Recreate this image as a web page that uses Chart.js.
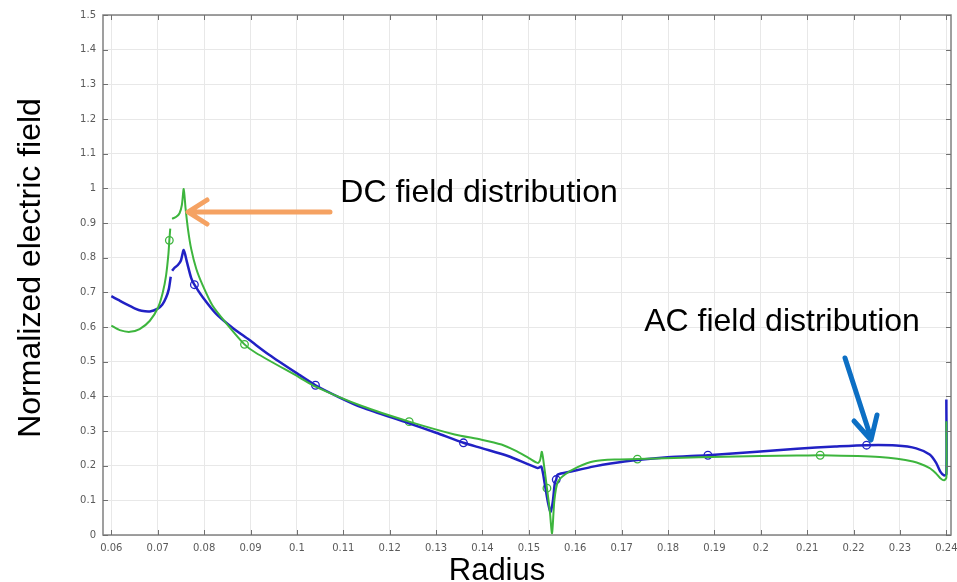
<!DOCTYPE html>
<html>
<head>
<meta charset="utf-8">
<script src="https://cdn.jsdelivr.net/npm/chart.js@4.4.1/dist/chart.umd.min.js"></script>
<style>
  html, body { margin: 0; padding: 0; background: #fff; }
  #wrap { width: 957px; height: 582px; }
</style>
</head>
<body>
<div id="wrap"><canvas id="fieldchart" width="957" height="582"></canvas></div>
<script>
// tick labels
const xTickLabels = ['0.06','0.07','0.08','0.09','0.1','0.11','0.12','0.13','0.14','0.15','0.16','0.17','0.18','0.19','0.2','0.21','0.22','0.23','0.24'];
const yTickLabels = ['0','0.1','0.2','0.3','0.4','0.5','0.6','0.7','0.8','0.9','1','1.1','1.2','1.3','1.4','1.5'];

// AC field (blue), null = break in the curve
const acX = [0.0600,0.0615,0.0633,0.0650,0.0665,0.0683,0.0700,0.0710,0.0718,0.0724,0.0728,0.0729,
  0.0731,0.0737,0.0743,0.0750,0.0756,0.0763,0.0772,0.0779,0.0797,0.0826,0.0861,0.0897,0.0940,
  0.1005,0.1040,0.1090,0.1140,0.1240,0.1300,0.1359,0.1400,0.1455,0.1519,0.1527,0.1534,0.1541,
  0.1547,0.1552,0.1556,0.1559,0.1562,0.1591,0.1641,0.1706,0.1799,0.1886,0.1992,0.2078,0.2160,
  0.2228,0.2292,0.2335,0.2364,0.2378,0.2387,0.2395,0.2400,0.2400];
const acY = [0.689,0.678,0.665,0.654,0.647,0.645,0.653,0.665,0.685,0.710,0.745,null,
  0.762,0.772,0.778,0.792,0.822,0.787,0.742,0.722,0.686,0.638,0.598,0.563,0.520,
  0.462,0.432,0.398,0.368,0.323,0.295,0.266,0.250,0.228,0.193,0.197,0.150,0.095,
  0.066,0.100,0.150,0.160,0.174,0.183,0.198,0.212,0.224,0.230,0.240,0.249,0.255,
  0.259,0.258,0.250,0.232,0.208,0.183,0.172,0.175,0.391];
const acMarkX = [0.0779,0.1040,0.1359,0.1559,0.1886,0.2228];
const acMarkY = [0.722,0.432,0.266,0.160,0.230,0.259];

// DC field (green)
const dcX = [0.0600,0.0618,0.0640,0.0661,0.0683,0.0701,0.0711,0.0718,0.0723,0.0725,0.0727,0.0729,
  0.0731,0.0740,0.0747,0.0752,0.0756,0.0760,0.0765,0.0772,0.0783,0.0797,0.0818,0.0847,0.0887,
  0.0912,0.1005,0.1040,0.1140,0.1242,0.1340,0.1398,0.1441,0.1470,0.1500,0.1519,0.1524,0.1528,
  0.1534,0.1539,0.1545,0.1550,0.1555,0.1562,0.1577,0.1605,0.1641,0.1691,0.1734,0.1813,0.1920,
  0.2078,0.2128,0.2256,0.2328,0.2364,0.2378,0.2387,0.2395,0.2400,0.2400];
const dcY = [0.604,0.591,0.586,0.594,0.618,0.657,0.700,0.749,0.810,0.850,0.884,null,
  0.912,0.918,0.928,0.952,0.998,0.942,0.884,0.826,0.768,0.720,0.662,0.612,0.550,
  0.525,0.455,0.428,0.372,0.327,0.290,0.275,0.261,0.244,0.222,0.208,0.215,0.240,
  0.188,0.135,0.072,0.005,0.100,0.152,0.174,0.196,0.213,0.218,0.219,0.222,0.226,
  0.229,0.230,0.225,0.212,0.193,0.177,0.164,0.158,0.165,0.328];
const dcMarkX = [0.0725,0.0887,0.1242,0.1539,0.1734,0.2128];
const dcMarkY = [0.850,0.550,0.327,0.135,0.219,0.230];

const blueCol = '#2121c4';
const greenCol = '#3db53d';

function pts(xs, ys) {
  return xs.map((x, i) => ({ x: x, y: ys[i] }));
}

// frame, inward ticks, titles, arrows
const extras = {
  id: 'extras',
  afterDraw(chart) {
    const ctx = chart.ctx;
    const a = chart.chartArea;
    const sx = chart.scales.x, sy = chart.scales.y;
    ctx.save();
    ctx.strokeStyle = '#808080';
    ctx.lineWidth = 1.5;
    ctx.strokeRect(a.left, a.top, a.right - a.left, a.bottom - a.top);
    ctx.lineWidth = 1;
    ctx.strokeStyle = '#707070';
    sx.ticks.forEach(t => {
      const p = Math.round(sx.getPixelForValue(t.value)) + 0.5;
      ctx.beginPath();
      ctx.moveTo(p, a.bottom); ctx.lineTo(p, a.bottom - 5);
      ctx.moveTo(p, a.top); ctx.lineTo(p, a.top + 5);
      ctx.stroke();
    });
    sy.ticks.forEach(t => {
      const p = Math.round(sy.getPixelForValue(t.value)) + 0.5;
      ctx.beginPath();
      ctx.moveTo(a.left, p); ctx.lineTo(a.left + 5, p);
      ctx.moveTo(a.right, p); ctx.lineTo(a.right - 5, p);
      ctx.stroke();
    });

    ctx.fillStyle = '#000';
    ctx.font = '32px "Liberation Sans", Arial, sans-serif';
    ctx.textAlign = 'center';
    ctx.textBaseline = 'alphabetic';
    ctx.fillText('DC field distribution', 479, 202);
    ctx.fillText('AC field distribution', 782, 331);
    ctx.font = '31px "Liberation Sans", Arial, sans-serif';
    ctx.fillText('Radius', 497, 580);
    ctx.save();
    ctx.translate(40, 268);
    ctx.rotate(-Math.PI / 2);
    ctx.font = '32px "Liberation Sans", Arial, sans-serif';
    ctx.fillText('Normalized electric field', 0, 0);
    ctx.restore();

    // orange arrow
    ctx.lineCap = 'round';
    ctx.lineJoin = 'round';
    ctx.lineWidth = 5;
    ctx.strokeStyle = '#f5a262';
    ctx.beginPath();
    ctx.moveTo(330, 212); ctx.lineTo(189, 212);
    ctx.moveTo(207, 200); ctx.lineTo(188, 212); ctx.lineTo(207, 224);
    ctx.stroke();
    // blue arrow
    ctx.strokeStyle = '#0c6fc4';
    ctx.beginPath();
    ctx.moveTo(845, 358); ctx.lineTo(871, 438);
    ctx.moveTo(854, 421); ctx.lineTo(871, 440); ctx.lineTo(877, 415);
    ctx.stroke();
    ctx.restore();
  }
};

const chart = new Chart(document.getElementById('fieldchart').getContext('2d'), {
  type: 'line',
  data: {
    datasets: [
      { data: pts(dcX, dcY), borderColor: greenCol, borderWidth: 2, pointRadius: 0, tension: 0.25, spanGaps: false },
      { data: pts(acX, acY), borderColor: blueCol, borderWidth: 2.5, pointRadius: 0, tension: 0.25, spanGaps: false },
      { data: pts(dcMarkX, dcMarkY), showLine: false, pointRadius: 3.8, pointBorderWidth: 1.3,
        pointBorderColor: greenCol, pointBackgroundColor: 'rgba(0,0,0,0)' },
      { data: pts(acMarkX, acMarkY), showLine: false, pointRadius: 3.8, pointBorderWidth: 1.3,
        pointBorderColor: blueCol, pointBackgroundColor: 'rgba(0,0,0,0)' }
    ]
  },
  options: {
    responsive: false,
    animation: false,
    layout: { padding: { left: 0, right: 6, top: 15, bottom: 0 } },
    plugins: { legend: { display: false }, tooltip: { enabled: false } },
    scales: {
      x: {
        type: 'linear',
        min: 0.0582,
        max: 0.2410,
        afterBuildTicks: s => { s.ticks = xTickLabels.map(v => ({ value: parseFloat(v) })); },
        afterFit: s => { s.height = 47; s.paddingLeft = 0; s.paddingRight = 0; },
        grid: { color: '#e8e8e8', drawTicks: false },
        border: { display: false },
        ticks: {
          autoSkip: false, maxRotation: 0, padding: 7, color: '#5a5a5a',
          font: { family: 'DejaVu Sans', size: 10 },
          callback: (v, i) => xTickLabels[i]
        }
      },
      y: {
        min: 0,
        max: 1.5,
        afterBuildTicks: s => { s.ticks = yTickLabels.map(v => ({ value: parseFloat(v) })); },
        afterFit: s => { s.width = 103; s.paddingTop = 0; s.paddingBottom = 0; },
        grid: { color: '#e8e8e8', drawTicks: false },
        border: { display: false },
        ticks: {
          padding: 7, color: '#5a5a5a',
          font: { family: 'DejaVu Sans', size: 10 },
          callback: (v, i) => yTickLabels[i]
        }
      }
    }
  },
  plugins: [extras]
});
</script>
</body>
</html>
